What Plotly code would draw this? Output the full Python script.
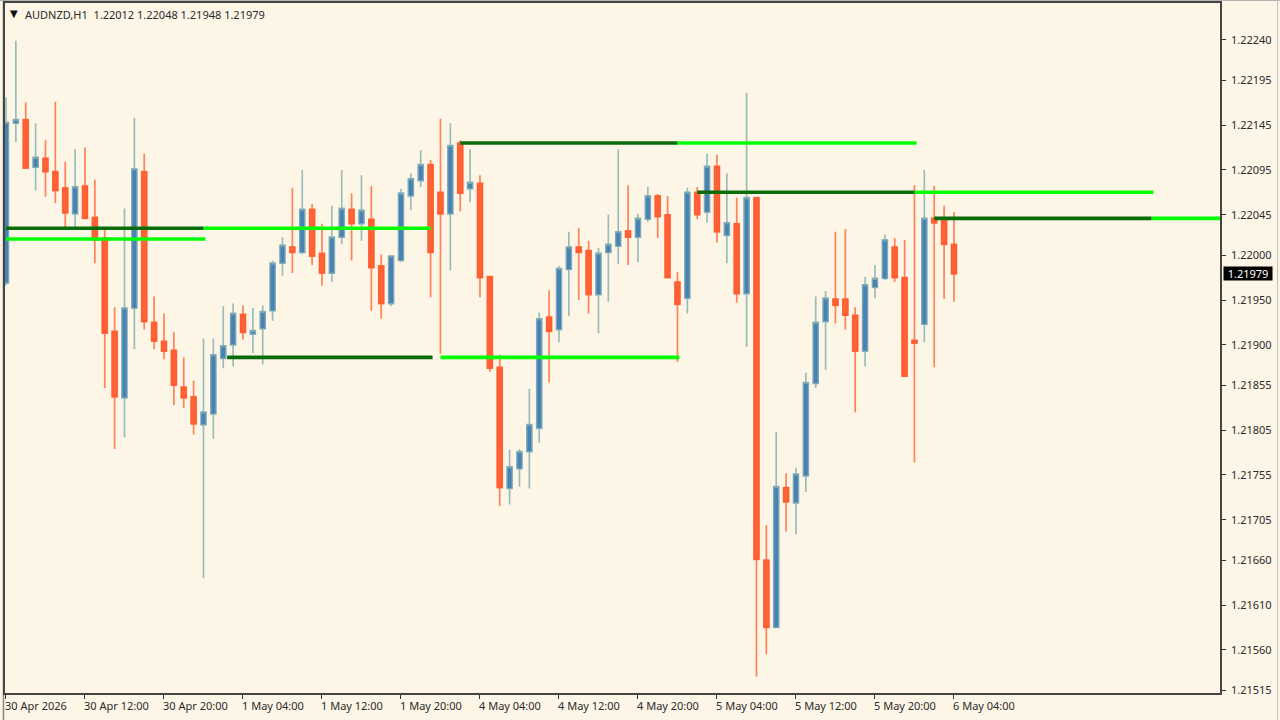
import plotly.graph_objects as go

# AUDNZD H1 candles.
opens = [1.21969, 1.22147, 1.22151, 1.22098, 1.22108, 1.22093, 1.22075, 1.22046, 1.22077, 1.22042,
    1.22019, 1.21915, 1.21841, 1.21941, 1.22093, 1.21925, 1.21904, 1.21894, 1.21853, 1.21842,
    1.21811, 1.21823, 1.21885, 1.21900, 1.21934, 1.21912, 1.21918, 1.21938, 1.21991, 1.22009,
    1.22003, 1.22051, 1.22002, 1.21980, 1.22020, 1.22051, 1.22035, 1.22040, 1.21988, 1.21946,
    1.21994, 1.22066, 1.22083, 1.22101, 1.22070, 1.22046, 1.22125, 1.22074, 1.22080, 1.21976,
    1.21875, 1.21740, 1.21762, 1.21781, 1.21807, 1.21931, 1.21917, 1.21984, 1.22009, 1.22005,
    1.21956, 1.22003, 1.22010, 1.22027, 1.22020, 1.22040, 1.22066, 1.22045, 1.21970, 1.21952,
    1.22070, 1.22048, 1.22099, 1.22022, 1.22035, 1.21957, 1.22064, 1.21660, 1.21585, 1.21741,
    1.21724, 1.21754, 1.21857, 1.21926, 1.21951, 1.21951, 1.21933, 1.21893, 1.21964, 1.21974,
    1.22009, 1.21975, 1.21905, 1.21923, 1.22041, 1.22041, 1.22012]
highs = [1.22176, 1.22239, 1.22170, 1.22147, 1.22128, 1.22171, 1.22104, 1.22118, 1.22120, 1.22084,
    1.22031, 1.21942, 1.22052, 1.22153, 1.22113, 1.21954, 1.21935, 1.21914, 1.21886, 1.21860,
    1.21907, 1.21907, 1.21943, 1.21946, 1.21944, 1.21941, 1.21944, 1.21994, 1.22020, 1.22075,
    1.22095, 1.22057, 1.22035, 1.22055, 1.22095, 1.22069, 1.22089, 1.22077, 1.22001, 1.21999,
    1.22074, 1.22091, 1.22117, 1.22106, 1.22152, 1.22147, 1.22128, 1.22118, 1.22089, 1.21976,
    1.21889, 1.21783, 1.21784, 1.21851, 1.21936, 1.21961, 1.21988, 1.22026, 1.22030, 1.22016,
    1.22008, 1.22045, 1.22118, 1.22078, 1.22046, 1.22076, 1.22068, 1.22066, 1.21981, 1.22075,
    1.22076, 1.22113, 1.22112, 1.22091, 1.22064, 1.22181, 1.22064, 1.21699, 1.21803, 1.21757,
    1.21763, 1.21869, 1.21954, 1.21960, 1.22026, 1.22029, 1.21942, 1.21976, 1.21989, 1.22023,
    1.22019, 1.22017, 1.22078, 1.22095, 1.22077, 1.22055, 1.22048]
lows = [1.21966, 1.22126, 1.22096, 1.22072, 1.22065, 1.22058, 1.22029, 1.22029, 1.22041, 1.21991,
    1.21852, 1.21784, 1.21797, 1.21895, 1.21917, 1.21895, 1.21884, 1.21833, 1.21830, 1.21800,
    1.21640, 1.21795, 1.21874, 1.21876, 1.21906, 1.21891, 1.21878, 1.21927, 1.21977, 1.21980,
    1.22001, 1.21989, 1.21966, 1.21970, 1.22012, 1.21994, 1.22016, 1.21938, 1.21929, 1.21943,
    1.21992, 1.22050, 1.22076, 1.21953, 1.21890, 1.21983, 1.22049, 1.22059, 1.21953, 1.21870,
    1.21720, 1.21722, 1.21742, 1.21740, 1.21791, 1.21858, 1.21903, 1.21932, 1.21950, 1.21935,
    1.21913, 1.21948, 1.21990, 1.21989, 1.21992, 1.22037, 1.22019, 1.21975, 1.21881, 1.21935,
    1.22040, 1.22036, 1.22014, 1.21991, 1.21947, 1.21898, 1.21530, 1.21555, 1.21585, 1.21692,
    1.21689, 1.21736, 1.21852, 1.21872, 1.21924, 1.21917, 1.21825, 1.21876, 1.21952, 1.21972,
    1.21970, 1.21865, 1.21769, 1.21903, 1.21875, 1.21951, 1.21948]
closes = [1.22148, 1.22151, 1.22097, 1.22109, 1.22093, 1.22072, 1.22047, 1.22076, 1.22041, 1.22017,
    1.21913, 1.21842, 1.21941, 1.22096, 1.21926, 1.21904, 1.21893, 1.21855, 1.21841, 1.21812,
    1.21825, 1.21889, 1.21899, 1.21935, 1.21914, 1.21916, 1.21937, 1.21991, 1.22011, 1.22003,
    1.22051, 1.21999, 1.21980, 1.22020, 1.22052, 1.22035, 1.22050, 1.21986, 1.21946, 1.21999,
    1.22069, 1.22085, 1.22101, 1.22003, 1.22046, 1.22122, 1.22069, 1.22081, 1.21975, 1.21874,
    1.21741, 1.21764, 1.21781, 1.21811, 1.21929, 1.21915, 1.21985, 1.22009, 1.22003, 1.21956,
    1.22002, 1.22012, 1.22026, 1.22020, 1.22041, 1.22066, 1.22043, 1.21975, 1.21945, 1.22070,
    1.22045, 1.22099, 1.22026, 1.22036, 1.21957, 1.22064, 1.21661, 1.21585, 1.21742, 1.21725,
    1.21756, 1.21858, 1.21925, 1.21952, 1.21944, 1.21933, 1.21893, 1.21967, 1.21974, 1.22017,
    1.21975, 1.21865, 1.21902, 1.22041, 1.22036, 1.22012, 1.21979]

# Horizontal levels: price, first bar, last bar.
dark_prices = [1.22030, 1.21886, 1.22125, 1.22070, 1.22041]
dark_starts = [0, 22.4, 46, 70, 94]
dark_ends = [20, 43.2, 68, 92, 116]
bright_prices = [1.22030, 1.22018, 1.21886, 1.22125, 1.22070, 1.22041]
bright_starts = [20, 0, 44, 68, 92, 116]
bright_ends = [43, 20.2, 68.2, 92.2, 116.2, 123]

# Axis labels.
price_ticks = [1.22240, 1.22195, 1.22145, 1.22095, 1.22045, 1.22000, 1.21950, 1.21900,
    1.21855, 1.21805, 1.21755, 1.21705, 1.21660, 1.21610, 1.21560, 1.21515]
time_ticks = [0, 8, 16, 24, 32, 40, 48, 56, 64, 72, 80, 88, 96]
time_labels = ['30 Apr 2026', '30 Apr 12:00', '30 Apr 20:00', '1 May 04:00', '1 May 12:00',
    '1 May 20:00', '4 May 04:00', '4 May 12:00', '4 May 20:00', '5 May 04:00',
    '5 May 12:00', '5 May 20:00', '6 May 04:00']

bars = list(range(len(opens)))
FONT = 'Noto Sans'
TEXT = '#2b2b2b'
BG = '#FDF5E6'

fig = go.Figure()

# Wicks go under the level lines, bodies on top of them.
fig.add_trace(go.Candlestick(x=bars, open=opens, high=highs, low=lows, close=closes,
    increasing=dict(line=dict(color='#9ABDBB', width=1.7), fillcolor='#9ABDBB'),
    decreasing=dict(line=dict(color='#FF8258', width=1.7), fillcolor='#FF8258'),
    hoverinfo='skip'))

for price, start, end in zip(bright_prices, bright_starts, bright_ends):
    fig.add_trace(go.Scatter(x=[start, end], y=[price, price], mode='lines',
        line=dict(color='#00FF00', width=3.6), hoverinfo='skip'))
for price, start, end in zip(dark_prices, dark_starts, dark_ends):
    fig.add_trace(go.Scatter(x=[start, end], y=[price, price], mode='lines',
        line=dict(color='#086C08', width=3.6), hoverinfo='skip'))

fig.add_trace(go.Candlestick(x=bars, open=opens, close=closes,
    high=[max(o, c) for o, c in zip(opens, closes)],
    low=[min(o, c) for o, c in zip(opens, closes)],
    increasing=dict(line=dict(color='#7FA9B6', width=1), fillcolor='#4682B4'),
    decreasing=dict(line=dict(color='#FF5A2E', width=1), fillcolor='#FF6236'),
    hoverinfo='skip'))

# Time labels start at the tick, so they are annotations rather than tick labels.
for tick, label in zip(time_ticks, time_labels):
    fig.add_annotation(x=tick, y=0, xref='x', yref='paper', yanchor='top', xanchor='left',
        text=label, showarrow=False, xshift=-3, yshift=-3,
        font=dict(family=FONT, size=11, color=TEXT))

# Header and last price box.
fig.add_annotation(x=0, y=1, xref='paper', yref='paper', xanchor='left', yanchor='top',
    text='▼', showarrow=False, xshift=3, yshift=-3,
    font=dict(family='DejaVu Sans', size=10, color='#111111'))
fig.add_annotation(x=0, y=1, xref='paper', yref='paper', xanchor='left', yanchor='top',
    text='AUDNZD,H1&nbsp;&nbsp;1.22012 1.22048 1.21948 1.21979', showarrow=False,
    xshift=18, yshift=-2, font=dict(family=FONT, size=11, color=TEXT))
fig.add_annotation(x=1, y=closes[-1], xref='paper', yref='y', xanchor='left', yanchor='middle',
    text='1.21979', showarrow=False, xshift=3, width=48, height=13, borderpad=0,
    bgcolor='#000000', font=dict(family=FONT, size=11, color='#FFFFFF'))

# Grey window edges around the chart.
fig.add_shape(type='rect', xref='paper', yref='paper', x0=-0.0019, x1=-0.0006, y0=-0.05, y1=1.01,
    fillcolor='#8A8A8A', line_width=0, layer='below')
fig.add_shape(type='rect', xref='paper', yref='paper', x0=-0.005, x1=1.05, y0=1.0028, y1=1.0045,
    fillcolor='#B4B4B4', line_width=0, layer='below')
fig.add_shape(type='rect', xref='paper', yref='paper', x0=1.0469, x1=1.0478, y0=-0.05, y1=1.01,
    fillcolor='#C4C4C4', line_width=0, layer='below')

fig.update_layout(width=1280, height=720, showlegend=False,
    margin=dict(l=5, r=60, t=3, b=27, autoexpand=False),
    paper_bgcolor=BG, plot_bgcolor=BG, boxgap=0.28, hovermode=False,
    xaxis=dict(range=[-0.1, 122.94], rangeslider_visible=False, showgrid=False, zeroline=False,
        tickmode='array', tickvals=time_ticks, showticklabels=False, ticks='outside', ticklen=4,
        tickcolor='#333333', showline=True, mirror=True, linecolor='#444444', linewidth=1.5),
    yaxis=dict(range=[1.21512, 1.22281], side='right', showgrid=False, zeroline=False,
        tickmode='array', tickvals=price_ticks, ticktext=[f'{p:.5f}' for p in price_ticks],
        ticks='outside', ticklen=4, tickcolor='#333333', ticklabelstandoff=3,
        tickfont=dict(family=FONT, size=11, color=TEXT),
        showline=True, mirror=True, linecolor='#444444', linewidth=1.5))

# Browser's default body margin would push the chart off the page.
fig.write_html("out.html", config=dict(displayModeBar=False),
    post_script="document.body.style.margin='0';")
